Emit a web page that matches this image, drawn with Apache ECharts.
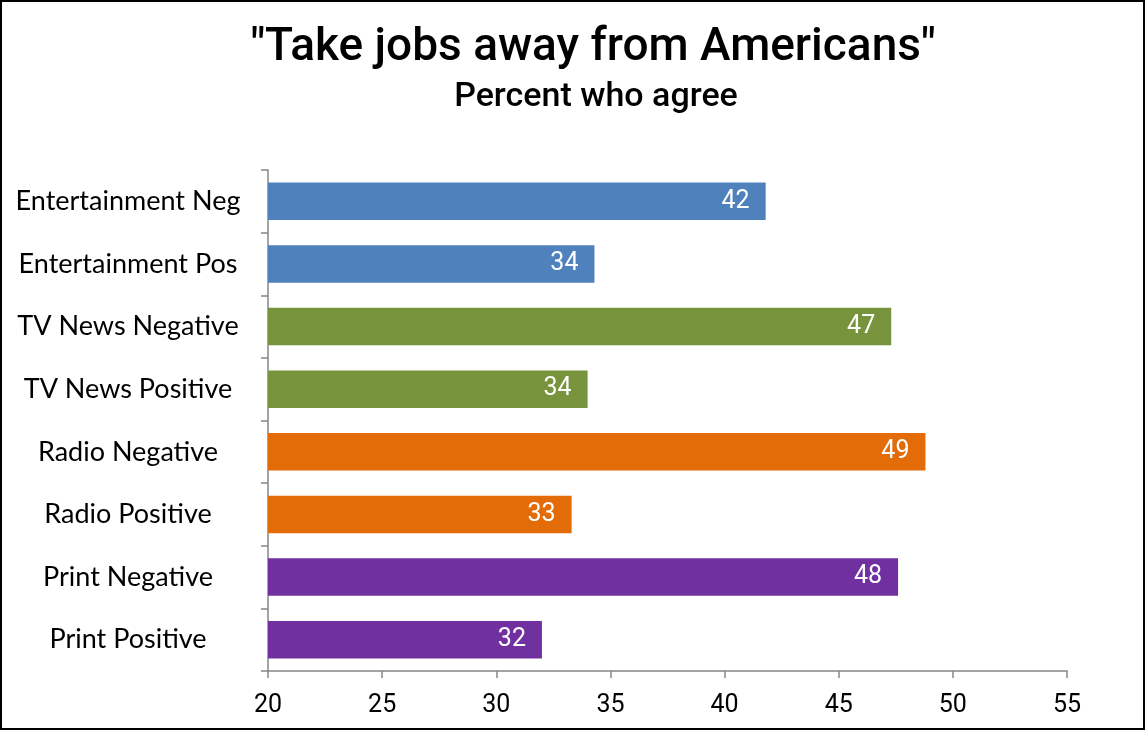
<!DOCTYPE html>
<html>
<head>
<meta charset="utf-8">
<script src="https://cdn.jsdelivr.net/npm/echarts@6/dist/echarts.min.js"></script>
<style>
html,body{margin:0;padding:0;background:#fff;}
#chart{width:1146px;height:731px;}
</style>
</head>
<body>
<div id="chart"></div>
<script>
const categories = ["Entertainment Neg","Entertainment Pos","TV News Negative","TV News Positive","Radio Negative","Radio Positive","Print Negative","Print Positive"];
const values = [41.8, 34.3, 47.3, 34.0, 48.8, 33.3, 47.6, 32.0];
const barColors = ["#4F81BD","#4F81BD","#77933C","#77933C","#E36C09","#E36C09","#7030A0","#7030A0"];
const xTicks = {min: 20, max: 55, interval: 5};
const titleText = '"Take jobs away from Americans"';
const subtitleText = 'Percent who agree';

const narrow = 'Roboto, "Liberation Sans Narrow", sans-serif';
const chart = echarts.init(document.getElementById('chart'));
chart.setOption({
  animation: false,
  backgroundColor: '#fff',
  title: [{
    text: titleText,
    left: 588, textAlign: 'center',
    top: 20,
    textStyle: {fontFamily: narrow, fontSize: 46, fontWeight: 500, color: '#000'}
  }, {
    text: subtitleText,
    left: 591, textAlign: 'center',
    top: 75,
    textStyle: {fontFamily: narrow, fontSize: 34, fontWeight: 500, color: '#000'}
  }],
  graphic: [{
    type: 'rect', shape: {x: 1, y: 1, width: 1143, height: 728},
    style: {fill: 'none', stroke: '#000', lineWidth: 2}, silent: true
  }],
  grid: {left: 268, right: 79, top: 170, bottom: 60, containLabel: false},
  xAxis: {
    type: 'value', min: xTicks.min, max: xTicks.max, interval: xTicks.interval,
    axisLine: {show: true, lineStyle: {color: '#868686', width: 1.5}},
    axisTick: {show: true, length: 7, lineStyle: {color: '#868686', width: 1.5}},
    splitLine: {show: false},
    axisLabel: {fontFamily: narrow, fontSize: 25, color: '#000', margin: 22}
  },
  yAxis: {
    type: 'category', data: categories, inverse: true,
    axisLine: {show: true, lineStyle: {color: '#868686', width: 1.5}},
    axisTick: {show: true, length: 7, lineStyle: {color: '#868686', width: 1.5}},
    axisLabel: {fontFamily: 'Lato, "Open Sans", sans-serif', fontSize: 27, color: '#000', align: 'center', margin: 140}
  },
  series: [{
    type: 'bar',
    data: values.map((v, i) => ({value: v, itemStyle: {color: barColors[i]}})),
    barCategoryGap: '40%',
    label: {
      show: true, position: 'insideRight', distance: 16,
      formatter: p => Math.round(p.value),
      fontFamily: narrow, fontSize: 25, color: '#fff'
    }
  }]
});
</script>
</body>
</html>
